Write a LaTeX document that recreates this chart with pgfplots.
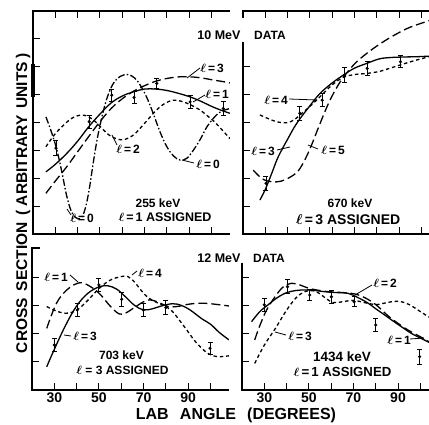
\documentclass[border=0pt]{standalone}
\usepackage{pgfplots}
\pgfplotsset{compat=1.18}
\usepackage{bm}
\usepackage{fontspec}
\setmainfont{Liberation Sans}
\newcommand{\fs}[1]{\fontsize{#1}{#1}\selectfont\bfseries}
\newcommand{\el}{$\bm{\ell}$}
\pgfplotsset{
  panel/.style={scale only axis, xmin=20, ymin=0,
    axis line style={draw=none}, tick align=inside,
    major tick length=7pt, tick style={line width=1pt, black},
    ytick pos=left, yticklabels={}, xtick={30,40,...,100},
    xticklabel style={font=\fs{14}, yshift=1pt}},
  c1/.style={black, line width=1.3pt, smooth, tension=0.6},
  cld/.style={black, line width=1.3pt, smooth, tension=0.6, dash pattern=on 9pt off 4pt},
  csd/.style={black, line width=1.3pt, smooth, tension=0.6, dash pattern=on 3.5pt off 2.8pt},
  cdd/.style={black, line width=1.3pt, smooth, tension=0.6, dash pattern=on 7pt off 2.2pt on 1.5pt off 2.2pt},
  dat/.style={black, only marks, mark=*, mark size=1.4pt,
    error bars/.cd, y dir=both, y explicit,
    error bar style={line width=0.9pt},
    error mark options={rotate=90, mark size=2.5pt, line width=0.9pt}},
}
\begin{document}
\begin{tikzpicture}
\path[use as bounding box] (0pt,0pt) rectangle (429pt,424pt);
% ---------- top left: 10 MeV, 255 keV
\begin{axis}[panel, at={(33pt,190pt)}, anchor=south west, width=197pt, height=223pt,
  xmax=108.3, ymax=8, ytick={1,...,7}, xtick pos=both, xticklabels={},
  extra description/.code={\draw[line width=1.2pt] (rel axis cs:1,1) -- (rel axis cs:0,1) -- (rel axis cs:0,0) -- (rel axis cs:1,0);
    \draw[line width=4pt] (axis cs:20,6.1) -- (axis cs:20,4.9);}]
\addplot[c1] coordinates {(25.8,2.23) (30,2.5) (35,2.88) (40,3.33) (45,3.85) (50,4.3) (55,4.7) (60,4.95) (65,5.1) (70,5.2) (75,5.2) (80,5.15) (85,5.05) (90,4.93) (95,4.77) (100,4.58) (104,4.45) (108.3,4.33)};
\addplot[cld] coordinates {(25.8,1.46) (30,1.9) (35,2.4) (40,2.95) (45,3.5) (50,4.03) (55,4.5) (60,4.85) (65,5.12) (70,5.32) (75,5.48) (80,5.58) (86,5.64) (92,5.63) (97,5.58) (101,5.52) (105,5.47) (108.3,5.42)};
\addplot[csd] coordinates {(25.8,3.13) (30,3.6) (35,4.0) (38,4.18) (41.8,4.27) (45,4.2) (48,4.03) (51,3.78) (55,3.5) (59.5,3.38) (63,3.45) (66,3.62) (69,3.88) (72,4.15) (75,4.42) (79,4.68) (83,4.8) (87,4.75) (91,4.62) (95,4.44) (98,4.25) (101,4.05) (104,3.8) (108.3,3.42)};
\addplot[cdd] coordinates {(25.8,4.2) (28,3.72) (30.6,3.05) (33,2.2) (35,1.4) (37,0.85) (39,0.6) (41,0.55) (42.5,0.7) (44,1.1) (45.5,1.75) (47,2.55) (49,3.5) (51.5,4.4) (53.5,4.95) (56,5.4) (59,5.65) (62.5,5.72) (65.5,5.6) (68,5.35) (71,4.9) (74,4.3) (77,3.65) (80,3.13) (83,2.8) (86,2.65) (89,2.72) (92,3.02) (95,3.4) (98,3.85) (102,4.25) (105,4.42) (108.3,4.5)};
\addplot[dat] coordinates {(30.3,3.08) +- (0,0.27) (45.2,4.03) +- (0,0.24) (55.3,4.98) +- (0,0.21) (65.3,4.9) +- (0,0.21) (75.5,5.4) +- (0,0.18) (90.4,4.74) +- (0,0.24) (105.3,4.5) +- (0,0.24)};
\end{axis}
% ---------- top right: 670 keV
\begin{axis}[panel, at={(243pt,190pt)}, anchor=south west, width=186pt, height=223pt,
  xmax=103.4, ymax=8, ytick={1,...,6}, xtick pos=both, xticklabels={},
  extra description/.code={\draw[line width=1.2pt] (axis cs:20,7.75) -- (rel axis cs:0,1) -- (rel axis cs:1,1);
    \draw[line width=1.2pt] (axis cs:20,6.88) -- (rel axis cs:0,0) -- (rel axis cs:1,0);}]
\addplot[c1] coordinates {(27.6,1.22) (30,1.6) (33,2.2) (35.8,2.77) (40,3.4) (44.1,3.97) (50,4.6) (54.5,5.04) (60,5.42) (65,5.7) (70,5.95) (75.5,6.12) (81,6.28) (86,6.33) (92,6.35) (98,6.36) (103.4,6.38)};
\addplot[csd] coordinates {(27.6,4.27) (31,4.15) (35,4.03) (39.6,3.99) (43,4.1) (46,4.3) (50,4.58) (54.5,4.92) (60,5.35) (65,5.62) (70,5.72) (75.5,5.76) (81,5.83) (86,5.95) (90.4,6.06) (96,6.2) (103.4,6.36)};
\addplot[cld] coordinates {(24.6,2.29) (28,2.02) (31,1.9) (35,1.87) (39,1.95) (44,2.2) (47,2.55) (50,3.05) (53,3.65) (56,4.25) (59,4.8) (62,5.25) (65,5.62) (70,6.1) (75.5,6.48) (82,6.85) (88.9,7.18) (95,7.42) (103.4,7.65)};
\addplot[dat] coordinates {(30.3,1.82) +- (0,0.24) (45.5,4.33) +- (0,0.24) (55.5,4.8) +- (0,0.24) (65.5,5.7) +- (0,0.27) (75.7,5.94) +- (0,0.24) (90.6,6.18) +- (0,0.21)};
\end{axis}
% ---------- bottom left: 12 MeV, 703 keV
\begin{axis}[panel, at={(32pt,34pt)}, anchor=south west, width=197pt, height=142pt,
  xmax=108.3, ymax=5.07, ytick={1,...,4}, xtick pos=left, xticklabels={30,,50,,70,,90,},
  extra description/.code={\draw[line width=1.2pt] (rel axis cs:0.04,1) -- (rel axis cs:0,1) -- (rel axis cs:0,0) -- (rel axis cs:1,0);}]
\addplot[c1] coordinates {(26.6,0.83) (30,1.45) (35,2.3) (40,3.0) (45,3.45) (50,3.68) (54,3.72) (58,3.6) (62,3.32) (66,3.02) (70,2.86) (74,2.9) (78,3.0) (83,3.08) (87,3.02) (91,2.85) (96,2.55) (100,2.35) (104,2.05) (108.3,1.79)};
\addplot[cld] coordinates {(26.6,2.2) (31,3.1) (36,3.6) (41.5,3.83) (46,3.7) (50.5,3.42) (55,3.0) (59,2.72) (62,2.75) (66,2.95) (70,3.15) (73,3.22) (77,3.12) (81,2.98) (85,2.98) (90,3.06) (95,3.1) (100,3.08) (108.3,3.0)};
\addplot[csd] coordinates {(26.6,2.98) (30,2.85) (35,2.74) (40,2.85) (45,3.2) (50,3.62) (55,3.92) (60,4.05) (63,4.05) (66,3.85) (69,3.55) (72,3.3) (76,3.12) (80,2.98) (83,2.8) (86,2.5) (89.4,2.14) (92.5,1.8) (95.3,1.55) (99,1.3) (103,1.19) (108.3,1.22)};
\addplot[dat] coordinates {(30,1.61) +- (0,0.24) (40.3,2.86) +- (0,0.24) (50,3.75) +- (0,0.24) (60.2,3.24) +- (0,0.24) (69.9,2.86) +- (0,0.24) (80,2.94) +- (0,0.24) (99.8,1.49) +- (0,0.21)};
\end{axis}
% ---------- bottom right: 1434 keV
\begin{axis}[panel, at={(242pt,34pt)}, anchor=south west, width=187pt, height=142pt,
  xmax=103.9, ymax=5.07, ytick={1,...,4}, xtick pos=left, xticklabels={30,,50,,70,,90,},
  extra description/.code={\draw[line width=1.2pt] (axis cs:20,4.55) -- (rel axis cs:0,0) -- (rel axis cs:1,0);}]
\addplot[c1] coordinates {(24.3,2.44) (28,2.8) (31.7,3.04) (35,3.25) (39.2,3.45) (44,3.55) (48.2,3.57) (52,3.56) (57,3.51) (62,3.48) (67.6,3.45) (72,3.3) (76.6,3.1) (80,2.9) (84,2.68) (88,2.45) (91.5,2.26) (96,2.02) (101.2,1.81) (103.9,1.7)};
\addplot[cld] coordinates {(25.7,1.79) (28,2.3) (31,2.85) (35,3.35) (38.5,3.68) (42.2,3.81) (46,3.75) (50,3.63) (55,3.55) (60,3.5) (65,3.48) (70.6,3.43) (75,3.3) (80,3.05) (85.5,2.65) (90,2.38) (94.5,2.14) (101.2,1.85) (103.9,1.72)};
\addplot[csd] coordinates {(25.7,0.95) (30,1.6) (35,2.2) (40,2.85) (45,3.35) (50,3.55) (54,3.48) (58,3.25) (61,3.12) (65,3.15) (70,3.2) (75,3.12) (80,3.05) (85,3.12) (90,3.17) (95,3.05) (100,2.8) (103.9,2.6)};
\addplot[dat] coordinates {(30,3.04) +- (0,0.24) (40.4,3.69) +- (0,0.24) (50.4,3.39) +- (0,0.21) (60.1,3.33) +- (0,0.24) (70.3,3.15) +- (0,0.18) (80,2.32) +- (0,0.24) (99.7,1.19) +- (0,0.27)};
\end{axis}
% ---------- texts
\begin{scope}[x=1pt,y=1pt]
\node[rotate=90, font=\fs{15.5}] at (23,221) {CROSS\hspace{0.45em}SECTION\hspace{0.45em}(\hspace{0.25em}ARBITRARY\hspace{0.45em}UNITS\hspace{0.25em})};
\node[font=\fs{16}] at (236,9) {LAB\hspace{0.7em}ANGLE\hspace{0.7em}(DEGREES)};
\node[font=\fs{12.5}] at (219,389) {10 MeV};
\node[font=\fs{12}] at (270,389) {DATA};
\node[font=\fs{12.5}] at (219,166) {12 MeV};
\node[font=\fs{12}] at (269,166) {DATA};
\node[font=\fs{12}] at (158,221) {255 keV};
\node[font=\fs{12.5}] at (165,206.5) {\el\,=\,1 ASSIGNED};
\node[font=\fs{12}] at (350,221) {670 keV};
\node[font=\fs{14}] at (348,204) {\el\,=\,3 ASSIGNED};
\node[font=\fs{12}] at (121.5,69) {703 keV};
\node[font=\fs{12}] at (122.5,54) {\el\ = 3 ASSIGNED};
\node[font=\fs{13.5}] at (342,67) {1434 keV};
\node[font=\fs{13.2}] at (342.5,52) {\el\,=\,1 ASSIGNED};
\end{scope}
% curve labels
\begin{scope}[x=1pt,y=1pt,font=\fs{12}]
\node at (212,356) {\el\,=\,3}; \draw[line width=0.8pt] (187,346) -- (200,356);
\node at (217,330) {\el\,=\,1}; \draw[line width=0.8pt] (193,322) -- (205,329);
\node at (128,275) {\el\,=\,2}; \draw[line width=0.8pt] (112,289) -- (117,279);
\node at (208,260) {\el\,=\,0}; \draw[line width=0.8pt] (182,264) -- (194,261);
\node at (82,206) {\el\,=\,0}; \draw[line width=0.8pt] (67,215) -- (71,209);
\node at (276,324) {\el\,=\,4}; \draw[line width=0.8pt] (289,325) -- (317,324);
\node at (263,273) {\el\,=\,3}; \draw[line width=0.8pt] (277,274) -- (290,277);
\node at (333,274) {\el\,=\,5}; \draw[line width=0.8pt] (308,279) -- (318,275);
\node at (56,147) {\el\,=\,1}; \draw[line width=0.8pt] (70,149) -- (78,142);
\node at (150,151) {\el\,=\,4}; \draw[line width=0.8pt] (132,149) -- (137,153);
\node at (85,88) {\el\,=\,3}; \draw[line width=0.8pt] (64,89) -- (71,88);
\node at (385,141) {\el\,=\,2}; \draw[line width=0.8pt] (355,129) -- (372,139);
\node at (300,88) {\el\,=\,3}; \draw[line width=0.8pt] (275,92) -- (286,89);
\node at (399,84) {\el\,=\,1}; \draw[line width=0.8pt] (410,85) -- (424,86);
\end{scope}
\end{tikzpicture}
\end{document}
